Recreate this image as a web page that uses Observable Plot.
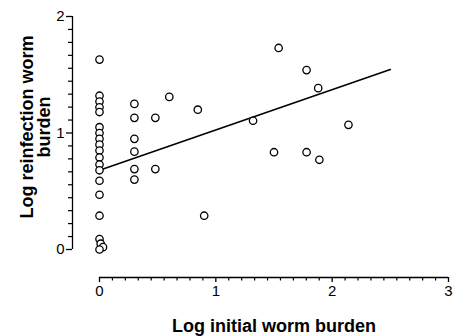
<!DOCTYPE html>
<html><head><meta charset="utf-8">
<script src="https://cdn.jsdelivr.net/npm/d3@7"></script>
<script src="https://cdn.jsdelivr.net/npm/@observablehq/plot@0.6"></script>
<style>body{margin:0;background:#fff}</style>
</head><body><div id="chart"></div>
<script>
// Tick labels
const xTicks = [0, 1, 2, 3];
const yTicks = [0, 1, 2];
// Observed points: log initial worm burden (x) vs log reinfection worm burden (y)
const initialBurden = [
  0, 0, 0, 0, 0, 0, 0, 0, 0, 0, 0, 0, 0, 0, 0, 0, 0, 0.01, 0.03, 0,
  0.30, 0.30, 0.30, 0.30, 0.30, 0.30,
  0.48, 0.48,
  0.60, 0.845, 0.90,
  1.32, 1.54, 1.50, 1.78, 1.78, 1.88, 1.89, 2.14
];
const reinfectionBurden = [
  1.63, 1.32, 1.27, 1.22, 1.18, 1.05, 1.00, 0.95, 0.90, 0.85, 0.79, 0.73, 0.68, 0.59, 0.47, 0.29, 0.09, 0.05, 0.02, 0.00,
  1.25, 1.13, 0.95, 0.84, 0.69, 0.60,
  1.13, 0.69,
  1.31, 1.20, 0.29,
  1.105, 1.73, 0.835, 1.54, 0.835, 1.385, 0.77, 1.07
];
// Fitted regression line endpoints
const fitX = [0, 2.5];
const fitY = [0.68, 1.545];

const points = initialBurden.map((x, i) => ({x, y: reinfectionBurden[i]}));
const fit = fitX.map((x, i) => ({x, y: fitY[i]}));
const minorX = d3.range(0, 28).map(i => i / 9).filter(v => !xTicks.includes(v));
const minorY = d3.range(0, 19).map(i => i / 9).filter(v => !yTicks.includes(v));

const font = "'Liberation Sans', Arial, sans-serif";
const XOFF = 28, YOFF = -27;

const chart = Plot.plot({
  width: 454, height: 336,
  marginLeft: 99, marginRight: 6, marginTop: 16, marginBottom: 87,
  style: {fontFamily: font, background: "#fff", color: "#000"},
  x: {domain: [0, 3]},
  y: {domain: [0, 2]},
  marks: [
    Plot.ruleY([0], {x1: 0, x2: 3, dy: XOFF, stroke: "#000", strokeWidth: 1.3}),
    Plot.ruleX([0], {y1: 0, y2: 2, dx: YOFF, stroke: "#000", strokeWidth: 1.3}),
    Plot.axisX({ticks: xTicks, tickSize: 5, tickPadding: 3, dy: XOFF, fontSize: 15, label: null, stroke: "#000", strokeWidth: 1.3, tickFormat: d => String(d)}),
    Plot.axisX({ticks: minorX, tickSize: 3.5, dy: XOFF, text: null, label: null, stroke: "#000", strokeWidth: 1.2}),
    Plot.axisY({ticks: yTicks, tickSize: 6, tickPadding: 2, dx: YOFF, fontSize: 15, label: null, stroke: "#000", strokeWidth: 1.3, tickFormat: d => String(d)}),
    Plot.axisY({ticks: minorY, tickSize: 4, dx: YOFF, text: null, label: null, stroke: "#000", strokeWidth: 1.2}),
    Plot.line(fit, {x: "x", y: "y", stroke: "#000", strokeWidth: 1.6}),
    Plot.dot(points, {x: "x", y: "y", r: 3.7, stroke: "#000", fill: "#fff", strokeWidth: 1.3}),
    Plot.text(["Log reinfection worm\nburden"], {text: d => d, frameAnchor: "left", rotate: -90, dx: -63.5, dy: -6, fontSize: 18, fontWeight: "bold", lineHeight: 0.95, textAnchor: "middle", lineAnchor: "middle", fill: "#000"}),
    Plot.text(["Log initial worm burden"], {text: d => d, frameAnchor: "bottom", dy: 77, fontSize: 18, fontWeight: "bold", textAnchor: "middle", lineAnchor: "middle", fill: "#000"})
  ]
});
document.getElementById("chart").appendChild(chart);
</script>
</body></html>
